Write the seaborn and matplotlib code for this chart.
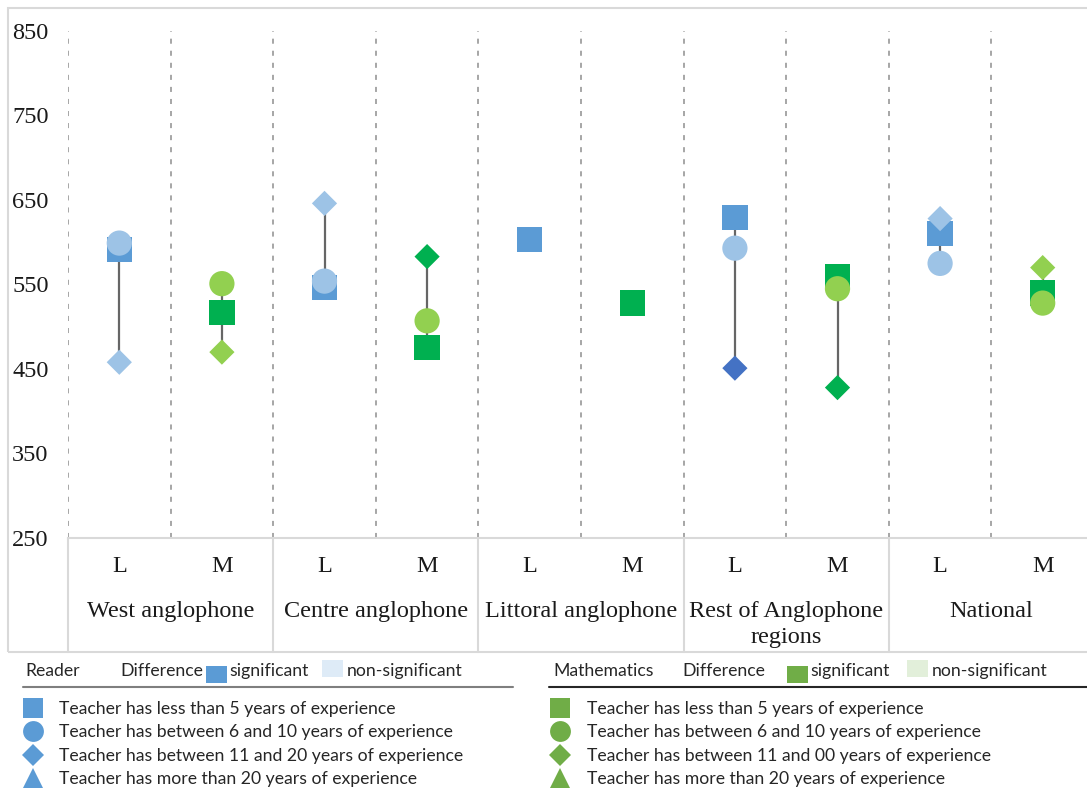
import numpy as np
import pandas as pd
import matplotlib
matplotlib.use("Agg")
import matplotlib.pyplot as plt
import seaborn as sns
from matplotlib.patches import Rectangle
import matplotlib.transforms as mtransforms

# ---- data ----
regions = ['West anglophone', 'Centre anglophone', 'Littoral anglophone',
           'Rest of Anglophone\nregions', 'National']
subjects = ['L', 'M']

lt5_L = [591, 546, 603, 629, 610]
lt5_M = [517, 475, 528, 559, 540]
y6_10_L = [599, 554, np.nan, 593, 575]
y6_10_M = [551, 507, np.nan, 545, 528]
y11_20_L = [458, 646, np.nan, 451, 628]
y11_20_M = [470, 583, np.nan, 428, 570]

# marker colours (significance shading as in the original)
col_lt5_L = ['#5B9BD5'] * 5
col_lt5_M = ['#00B050'] * 5
col_6_10_L = ['#9DC3E6'] * 5
col_6_10_M = ['#92D050'] * 5
col_11_20_L = ['#9DC3E6', '#9DC3E6', '#9DC3E6', '#4472C4', '#9DC3E6']
col_11_20_M = ['#92D050', '#00B050', '#00B050', '#00B050', '#92D050']

legend_left = ['Teacher has less than 5 years of experience',
               'Teacher has between 6 and 10 years of experience',
               'Teacher has between 11 and 20 years of experience',
               'Teacher has more than 20 years of experience']
legend_right = ['Teacher has less than 5 years of experience',
                'Teacher has between 6 and 10 years of experience',
                'Teacher has between 11 and 00 years of experience',
                'Teacher has more than 20 years of experience']

# ---- long table ----
rows = []
series = [('lt5', 'L', lt5_L, col_lt5_L), ('lt5', 'M', lt5_M, col_lt5_M),
          ('6to10', 'L', y6_10_L, col_6_10_L), ('6to10', 'M', y6_10_M, col_6_10_M),
          ('11to20', 'L', y11_20_L, col_11_20_L), ('11to20', 'M', y11_20_M, col_11_20_M)]
for exp, subj, vals, cols in series:
    for i, (v, c) in enumerate(zip(vals, cols)):
        if not np.isnan(v):
            rows.append({'region': i, 'subject': subj, 'exp': exp, 'score': v,
                         'pos': i * 2 + subjects.index(subj), 'color': c})
df = pd.DataFrame(rows)

W, H = 1087, 789
fig = plt.figure(figsize=(W / 100, H / 100), dpi=100)
sns.set_style('white')
serif = ['Liberation Serif', 'DejaVu Serif']
sans = ['Lato', 'DejaVu Sans']

ax = fig.add_axes([68 / W, 1 - 538 / H, 1026 / W, 507 / H])

# range lines between highest and lowest marker
rng = df.groupby('pos')['score'].agg(['min', 'max']).reset_index()
ax.vlines(rng['pos'], rng['min'], rng['max'], color='#666666', lw=1.6, zorder=1)

sns.scatterplot(data=df, x='pos', y='score', hue='color',
                palette={c: c for c in df['color'].unique()},
                style='exp', markers={'lt5': 's', '6to10': 'o', '11to20': 'D'},
                size='exp', sizes={'lt5': 330, '6to10': 330, '11to20': 165},
                linewidth=0, legend=False, ax=ax, zorder=3)

ax.set_xlim(-0.5, 9.5)
ax.set_ylim(250, 850)
ax.set_yticks([250, 350, 450, 550, 650, 750, 850])
ax.set_xticks([])
ax.set_xlabel('')
ax.set_ylabel('')
ax.tick_params(axis='y', length=0, pad=40.3, labelsize=17.5, labelcolor='#1a1a1a')
for lab in ax.get_yticklabels():
    lab.set_horizontalalignment('left')
    lab.set_fontfamily(serif)
for s in ['top', 'right', 'left']:
    ax.spines[s].set_visible(False)
ax.spines['bottom'].set_color('#D9D9D9')
ax.spines['bottom'].set_linewidth(1.5)

for b in np.arange(-0.5, 9.5, 1.0):
    ax.axvline(b, color='#A6A6A6', lw=1.4, ls=(0, (2.6, 3.6)), zorder=0)

# category labels below the axis
tr = mtransforms.blended_transform_factory(ax.transData, ax.transAxes)
for i, reg in enumerate(regions):
    for j, s in enumerate(subjects):
        ax.text(i * 2 + j, -29 / 507, s, transform=tr, ha='center', va='center',
                fontsize=17.5, family=serif, color='#1a1a1a')
    ax.text(i * 2 + 0.5, -63 / 507, reg, transform=tr, ha='center', va='top',
            fontsize=17.5, family=serif, linespacing=1.3, color='#1a1a1a')
    ax.plot([i * 2 - 0.5, i * 2 - 0.5], [0, -114 / 507], transform=tr,
            color='#D9D9D9', lw=1.5, clip_on=False)

# outer chart frame
fig.add_artist(Rectangle((8 / W, 1 - 652 / H), 1.1, 644 / H, transform=fig.transFigure,
                         fill=False, ec='#D9D9D9', lw=1.5))

# ---- legend block ----
lax = fig.add_axes([0, 0, 1, 1 - 652 / H])
lax.set_xlim(0, W)
lax.set_ylim(H, 652)
lax.axis('off')


def legend_block(x0, title, tx_diff, patch_sig, patch_non, col, col_pale,
                 line_x, line_col, mx, tx, labels, c_sig):
    fs = 12.7
    kw = dict(fontsize=fs, family=sans, va='center', color='#262626')
    lax.text(x0, 671, title, **kw)
    lax.text(tx_diff, 671, 'Difference', **kw)
    lax.add_patch(Rectangle((patch_sig, 666), 21, 17, color=col, lw=0))
    lax.text(patch_sig + 23, 671, 'significant', **kw)
    lax.add_patch(Rectangle((patch_non, 660), 21, 17, color=col_pale, lw=0))
    lax.text(patch_non + 25, 671, 'non-significant', **kw)
    lax.plot(line_x, [687, 687], color=line_col, lw=1.5)
    for k, (m, ms) in enumerate(zip(['s', 'o', 'D', '^'], [15, 15, 11, 15])):
        yy = 708 + k * 23.3
        lax.plot(mx, yy, marker=m, ms=ms, color=c_sig, mew=0, ls='none')
        lax.text(tx, yy + 1, labels[k], **kw)


legend_block(25, 'Reader', 120, 206, 322, '#5B9BD5', '#DEEBF7', [23, 513], '#7F7F7F',
             33, 59, legend_left, '#5B9BD5')
legend_block(553, 'Mathematics', 682, 787, 907, '#70AD47', '#E2EFDA', [549, 1087], '#262626',
             560, 587, legend_right, '#70AD47')

fig.savefig('out.png', dpi=100)
